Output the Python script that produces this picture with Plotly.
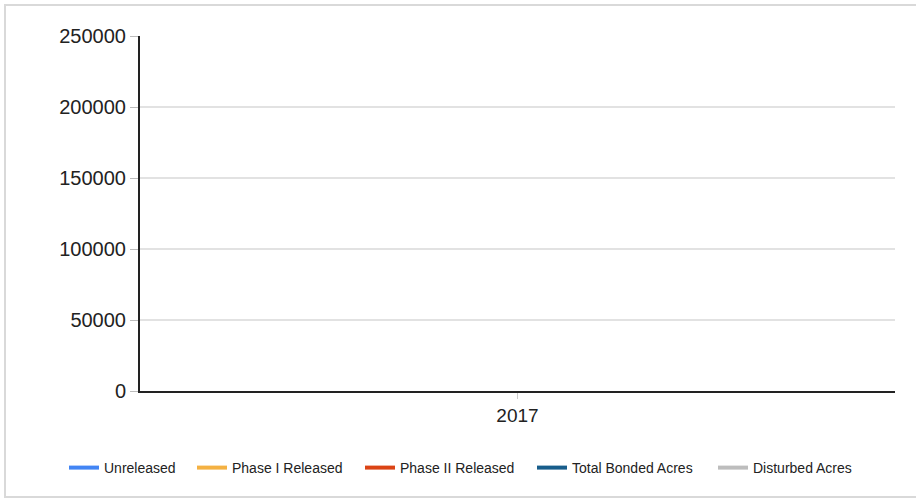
import plotly.graph_objects as go

# Reporting years on the category axis
years = ["2017"]

# Acreage series (no recorded values for the year)
unreleased = [None]
phase_i_released = [None]
phase_ii_released = [None]
total_bonded_acres = [None]
disturbed_acres = [None]

y_tick_values = [0, 50000, 100000, 150000, 200000, 250000]

series_names = ["Unreleased", "Phase I Released", "Phase II Released",
                "Total Bonded Acres", "Disturbed Acres"]
series_values = [unreleased, phase_i_released, phase_ii_released,
                 total_bonded_acres, disturbed_acres]
series_colors = ["#4285F4", "#F4B142", "#DB4415", "#185D8B", "#BDBDBD"]

W, H = 916, 499
L, R, T, B = 140, 21, 36, 108
pw, ph = W - L - R, H - T - B


def px_x(x):
    return (x - L) / pw


def px_y(y):
    return (H - B - y) / ph


# left edge (px) of each legend entry's swatch
legend_swatch_left = [69, 197, 365, 537, 718]

font_family = "Liberation Sans, Arial, sans-serif"

fig = go.Figure()
legend_layouts = {}
for i, (name, values, color) in enumerate(zip(series_names, series_values, series_colors)):
    key = "legend" if i == 0 else f"legend{i + 1}"
    fig.add_trace(go.Scatter(
        x=years, y=values, name=name, mode="lines",
        line=dict(color=color, width=4),
        legend=key,
    ))
    legend_layouts[key] = dict(
        orientation="h",
        x=px_x(legend_swatch_left[i] - 5), xanchor="left",
        y=px_y(468), yanchor="middle",
        font=dict(size=14, color="#222222", family=font_family),
        bgcolor="rgba(0,0,0,0)",
    )

fig.update_layout(
    width=W, height=H,
    margin=dict(l=L, r=R, t=T, b=B),
    paper_bgcolor="white", plot_bgcolor="white",
    font=dict(family=font_family, color="#222222"),
    showlegend=True,
    xaxis=dict(
        type="category",
        categoryorder="array", categoryarray=years,
        range=[-0.5, len(years) - 0.5],
        showline=True, linecolor="#222222", linewidth=2,
        showgrid=False, zeroline=False,
        ticks="outside", ticklen=6, tickcolor="#CCCCCC", tickwidth=1,
        tickfont=dict(size=19, color="#222222"),
    ),
    yaxis=dict(
        range=[0, 250000],
        tickvals=y_tick_values,
        tickformat="d",
        showline=True, linecolor="#222222", linewidth=2,
        showgrid=True, gridcolor="#E2E2E2", gridwidth=2,
        zeroline=False,
        ticks="outside", ticklen=8, tickcolor="#BBBBBB", tickwidth=1,
        tickfont=dict(size=20, color="#222222"),
    ),
    shapes=[
        dict(
            type="rect", xref="paper", yref="paper",
            x0=px_x(5), x1=px_x(920), y0=px_y(497), y1=px_y(5),
            line=dict(color="#D9D9D9", width=2),
            fillcolor="rgba(0,0,0,0)", layer="below",
        ),
    ],
    **legend_layouts,
)

fig.write_html("out.html")
